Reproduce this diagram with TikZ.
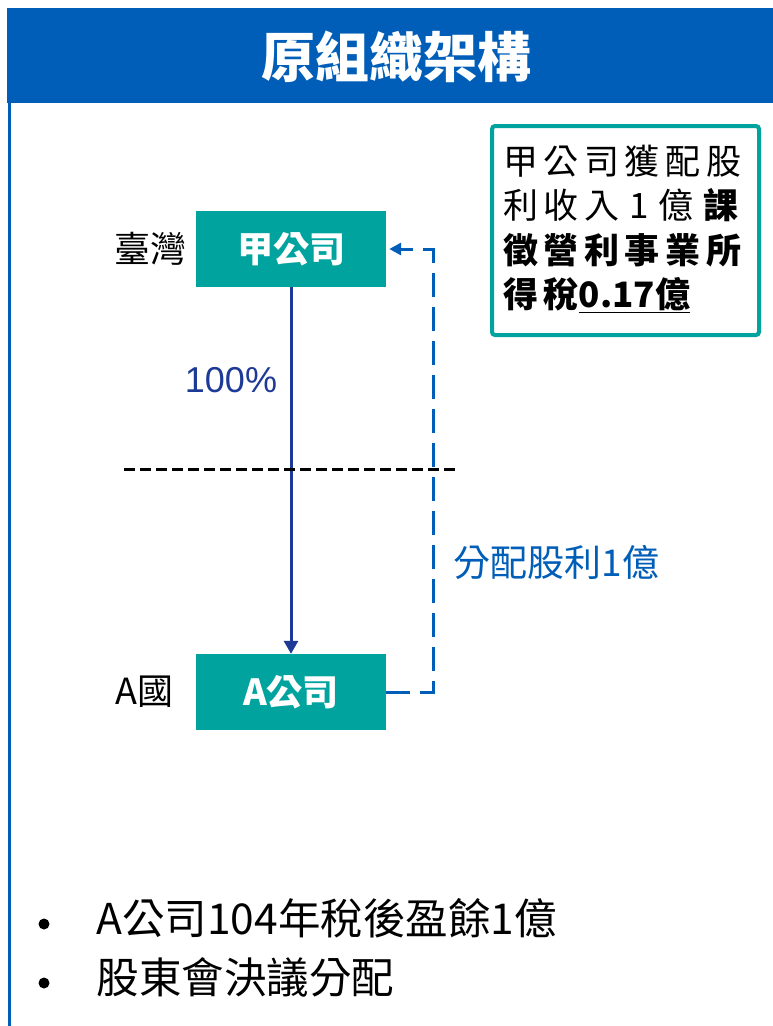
\documentclass[tikz,border=0pt]{standalone}
\usepackage{fontspec}
\setmainfont{Liberation Sans}
\newfontfamily\cjk{Noto Sans CJK TC}
\newfontfamily\cjkwide[LetterSpace=16]{Noto Sans CJK TC}
\usetikzlibrary{positioning,calc,arrows.meta}
\definecolor{hdrblue}{RGB}{0,94,184}
\definecolor{boxteal}{RGB}{0,163,158}
\definecolor{ownblue}{RGB}{28,58,150}

\begin{document}
\begin{tikzpicture}[x=1pt,y=-1pt,
    compbox/.style={fill=boxteal, minimum width=190pt, minimum height=76pt, inner sep=0pt,
        text=white, font=\cjk\bfseries\fontsize{36}{40}\selectfont},
    place/.style={anchor=east, font=\cjk\fontsize{36}{40}\selectfont},
    own/.style={draw=ownblue, line width=3pt, -{Triangle[width=14pt,length=13pt]}},
    divd/.style={draw=hdrblue, line width=3pt, dash pattern=on 24pt off 10pt,
        -{Triangle[width=12pt,length=12pt]}}]
    \useasboundingbox (0,0) rectangle (773,1026);

    % Header
    \fill[hdrblue] (7,8) rectangle (773,103);
    \node[text=white, font=\cjk\bfseries\fontsize{54}{58}\selectfont] (title) at (396,57) {原組織架構};
    \draw[hdrblue, line width=3pt] (9,103) -- (9,1026);

    % Companies
    \node[compbox] (jia) at (291,249) {甲公司};
    \node[compbox] (acomp) at (291,692) {A公司};
    \node[place] (taiwan) at (190,249) {臺灣};
    \node[place] (acountry) at (177,692) {A國};

    % Ownership
    \draw[own] (jia) -- (acomp);
    \node[text=ownblue, font=\fontsize{36}{40}\selectfont] (pct) at (231,380) {100\%};

    % Border
    \draw[line width=3pt, dash pattern=on 11pt off 5pt] (124,469) -- (458,469);

    % Dividend
    \coordinate (turn) at ($(acomp.east)+(47,0)$);
    \draw[divd] (acomp.east) -- (turn) |- ([xshift=3pt]jia.east);
    \node[anchor=west, text=hdrblue, font=\cjk\fontsize{37}{41}\selectfont] (divlbl) at (450,562) {分配股利1億};

    % Tax
    \node[draw=boxteal, line width=4pt, rounded corners=3pt, minimum width=267pt,
        minimum height=209pt, anchor=north west] (tax) at (490,124) {};
    \node[anchor=west, align=left, inner sep=0pt, font=\cjkwide\fontsize{35}{44.5}\selectfont]
        (taxtxt) at (503,229) {甲公司獲配股\\利收入\hspace{10pt}1\hspace{10pt}億\hspace{10pt}{\bfseries 課}\\{\bfseries 徵營利事業所}\\{\bfseries 得稅}{\cjk\bfseries\underline{0.17億}}};

    % Notes
    \fill (44,924) circle (5.5pt);
    \fill (44,983) circle (5.5pt);
    \node[anchor=west, font=\cjk\fontsize{42.5}{46}\selectfont] (note1) at (93,918) {A公司104年稅後盈餘1億};
    \node[anchor=west, font=\cjk\fontsize{42.5}{46}\selectfont] (note2) at (93,977) {股東會決議分配};
\end{tikzpicture}
\end{document}
